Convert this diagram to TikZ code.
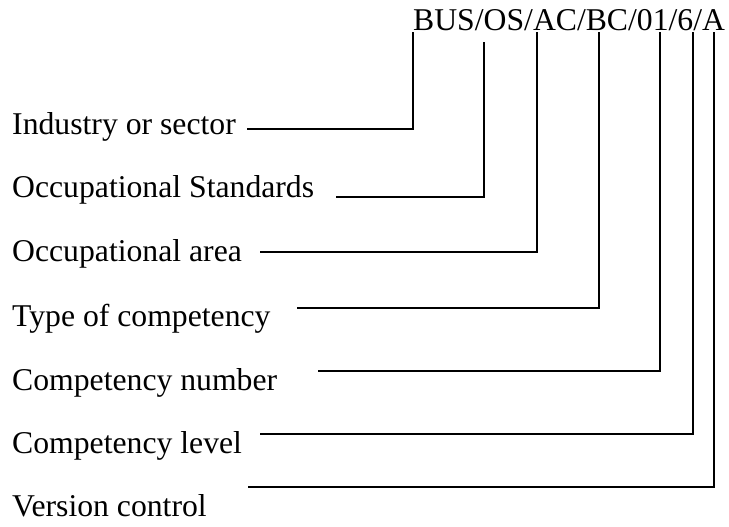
\documentclass[tikz,border=0pt]{standalone}
\usepackage{fontspec}
\setmainfont{Liberation Serif}

\begin{document}
\begin{tikzpicture}[
    x=1bp, y=-1bp,
    field/.style={anchor=base west, inner sep=0pt, font=\fontsize{31.7bp}{38bp}\selectfont},
    lead/.style={line width=1.6bp, line cap=rect}
]
\useasboundingbox (0,0) rectangle (729,527);

% the code
\node[field] (code) at (413,31) {BUS/OS/AC/BC/01/6/A};

% the parts of the code
\node[field] (ind)  at (12,135) {Industry or sector};
\node[field] (ocs)  at (12,198) {Occupational Standards};
\node[field] (oca)  at (12,262) {Occupational area};
\node[field] (typ)  at (12,326) {Type of competency};
\node[field] (num)  at (12,390) {Competency number};
\node[field] (lev)  at (12,453) {Competency level};
\node[field] (ver)  at (12,516) {Version control};

% where the leaders meet the code
\coordinate (c1) at (413,33);
\coordinate (c2) at (484,43);
\coordinate (c3) at (537,33);
\coordinate (c4) at (599,33);
\coordinate (c5) at (660,33);
\coordinate (c6) at (693,33);
\coordinate (c7) at (714,33);

% where the leaders start
\coordinate (s1) at (248,129);
\coordinate (s2) at (337,197);
\coordinate (s3) at (261,252);
\coordinate (s4) at (298,308);
\coordinate (s5) at (319,371);
\coordinate (s6) at (261,434);
\coordinate (s7) at (249,487);

\draw[lead] (s1) -| (c1);
\draw[lead] (s2) -| (c2);
\draw[lead] (s3) -| (c3);
\draw[lead] (s4) -| (c4);
\draw[lead] (s5) -| (c5);
\draw[lead] (s6) -| (c6);
\draw[lead] (s7) -| (c7);
\end{tikzpicture}
\end{document}
